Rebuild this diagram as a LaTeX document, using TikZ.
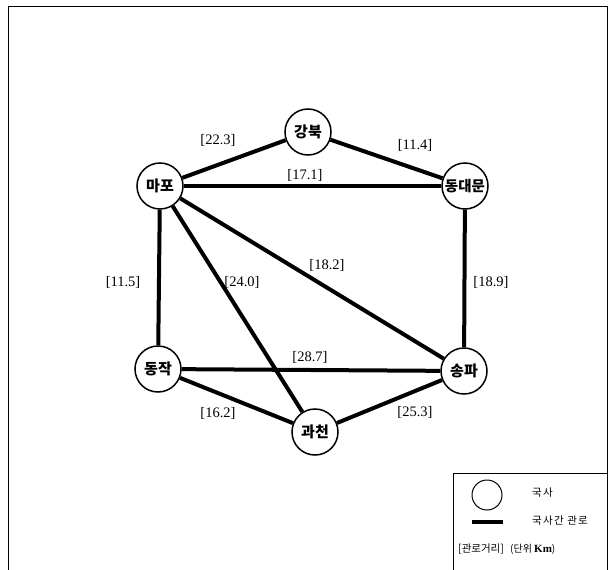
\documentclass[tikz,border=0pt]{standalone}
\usepackage{fontspec}
\setmainfont{Liberation Serif}
\newfontfamily\kr{Noto Sans CJK KR}
\newfontfamily\krsp{Noto Sans CJK KR}[LetterSpace=12]
\begin{document}
\begin{tikzpicture}[x=1pt,y=-1pt,
  office/.style={circle,draw,line width=1.5pt,fill=white,minimum size=46pt,inner sep=0pt,font=\kr\bfseries\fontsize{15}{15}\selectfont},
  pipe/.style={line width=4pt},
  dist/.style={font=\fontsize{14.5}{15}\selectfont,inner sep=0pt},
  legtext/.style={font=\krsp\fontsize{10.5}{10.5}\selectfont,anchor=west,inner sep=0pt}]
\useasboundingbox (0,0) rectangle (614,570);
% outer frame (open at bottom)
\draw[line width=1pt] (8,575) -- (8,6) -- (607,6) -- (607,575);
% legend box
\draw[line width=1pt] (453,575) -- (453,473) -- (607,473);
% nodes
\node[office] (gb) at (308,132) {강북};
\node[office] (mp) at (160,186) {마포};
\node[office] (dd) at (465,186) {\fontsize{14.5}{14.5}\selectfont 동대문};
\node[office] (dj) at (158,369) {동작};
\node[office] (sp) at (464,371) {송파};
\node[office] (gc) at (315,432) {과천};
% connectors
\draw[pipe] (mp) -- (gb);
\draw[pipe] (gb) -- (dd);
\draw[pipe] (mp) -- (dd);
\draw[pipe] (mp) -- (dj);
\draw[pipe] (mp) -- (gc);
\draw[pipe] (mp) -- (sp);
\draw[pipe] (dd) -- (sp);
\draw[pipe] (dj) -- (sp);
\draw[pipe] (dj) -- (gc);
\draw[pipe] (gc) -- (sp);
% distances
\node[dist] (l1) at (218,140) {[22.3]};
\node[dist] (l2) at (415,145) {[11.4]};
\node[dist] (l3) at (305,175) {[17.1]};
\node[dist] (l4) at (123,282) {[11.5]};
\node[dist] (l5) at (242,282) {[24.0]};
\node[dist] (l6) at (327,265) {[18.2]};
\node[dist] (l7) at (491,282) {[18.9]};
\node[dist] (l8) at (310,357) {[28.7]};
\node[dist] (l9) at (218,413) {[16.2]};
\node[dist] (l10) at (415,412) {[25.3]};
% legend
\node[circle,draw,line width=1pt,minimum size=30pt,inner sep=0pt] (lc) at (487,495) {};
\coordinate (la) at (472,522);
\coordinate (lb) at (503,522);
\draw[pipe] (la) -- (lb);
\node[legtext] (t1) at (532,493) {국사};
\node[legtext] (t2) at (532,521) {국사간 관로};
\node[legtext,font=\kr\fontsize{10.5}{10.5}\selectfont] (t3) at (458,549) {[관로거리]};
\node[legtext,font=\kr\fontsize{10}{10}\selectfont] (t4) at (510,549) {(단위 {\rmfamily\bfseries\fontsize{11}{11}\selectfont Km})};
\end{tikzpicture}
\end{document}
